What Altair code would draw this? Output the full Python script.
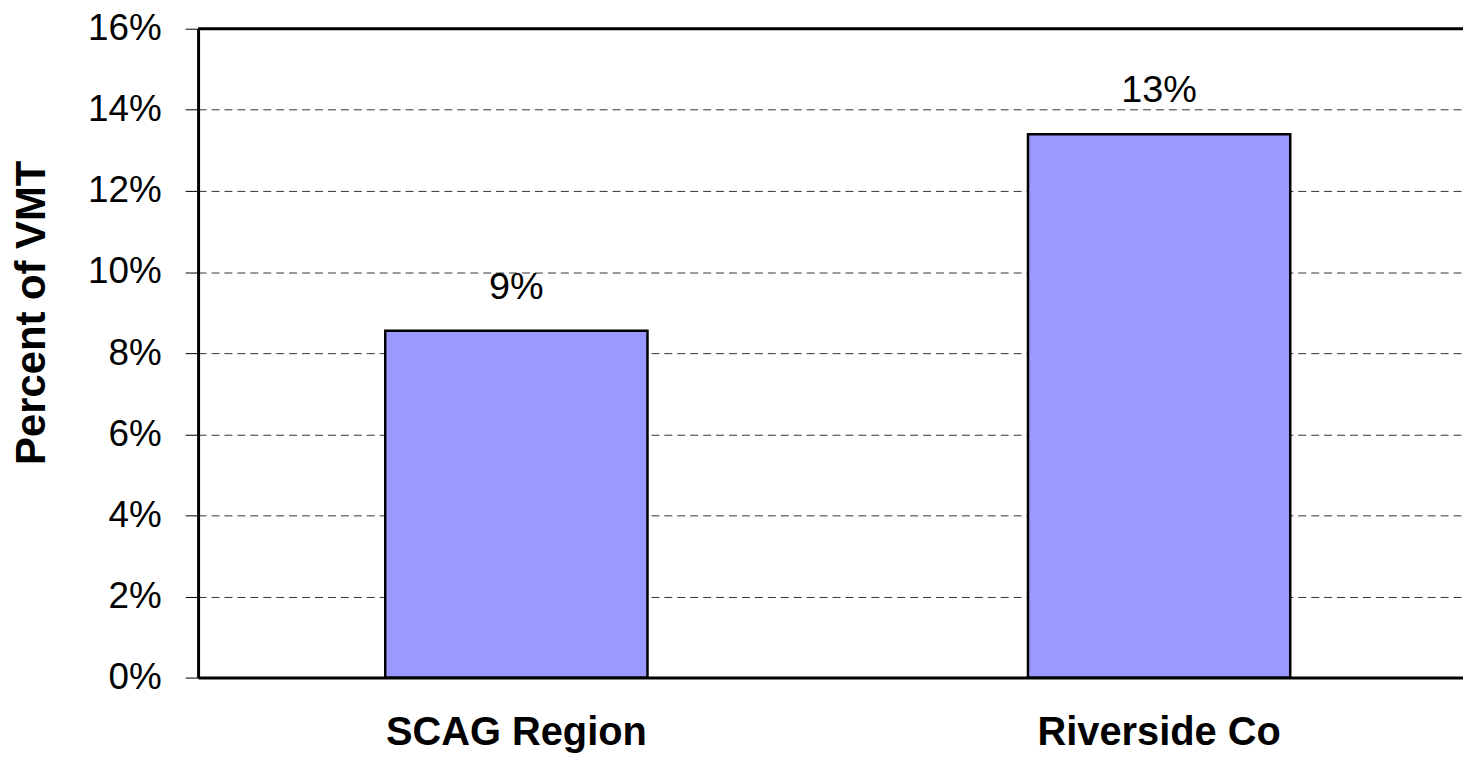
import altair as alt
import pandas as pd

categories = ["SCAG Region", "Riverside Co"]
values = [0.0855, 0.134]
y_ticks = [0, 0.02, 0.04, 0.06, 0.08, 0.10, 0.12, 0.14, 0.16]

df = pd.DataFrame({"cat": categories, "val": values})

W = 1271
H = 652
FONT = "Liberation Sans, Arial, Helvetica, sans-serif"

x_enc = alt.X(
    "cat:N",
    sort=categories,
    scale=alt.Scale(paddingInner=0.592, paddingOuter=0.28, align=0.52),
    axis=alt.Axis(
        title=None,
        labelAngle=0,
        labelFont=FONT,
        labelFontSize=40,
        labelFontWeight="bold",
        labelColor="black",
        labelPadding=35,
        labelLimit=0,
        ticks=False,
        domainColor="black",
        domainWidth=3,
        grid=False,
    ),
)

y_scale = alt.Scale(domain=[0, 0.16], nice=False, zero=True)

bars = alt.Chart(df).mark_bar(
    color="#9999FF", stroke="black", strokeWidth=2.5
).encode(
    x=x_enc,
    y=alt.Y(
        "val:Q",
        scale=y_scale,
        axis=alt.Axis(
            title="Percent of VMT",
            titleFont=FONT,
            titleFontSize=42,
            titleFontWeight="bold",
            titleColor="black",
            titlePadding=34,
            titleY=285,
            values=y_ticks,
            format=".0%",
            labelFont=FONT,
            labelFontSize=37,
            labelColor="black",
            labelPadding=24,
            tickColor="black",
            tickSize=13,
            tickWidth=1,
            domainColor="black",
            domainWidth=3,
            grid=True,
            gridColor="#333333",
            gridDash=[8, 5],
            gridWidth=1,
        ),
    ),
)

labels = alt.Chart(df).mark_text(
    font=FONT, fontSize=38, color="black", baseline="alphabetic", dy=-32
).encode(
    x=alt.X("cat:N", sort=categories),
    y=alt.Y("val:Q", scale=y_scale),
    text=alt.Text("val:Q", format=".0%"),
)

top_border = alt.Chart(pd.DataFrame({"t": [0.16]})).mark_rule(
    color="black", strokeWidth=3
).encode(
    y=alt.Y("t:Q", scale=y_scale),
    x=alt.value(0),
    x2=alt.value(W),
)

chart = (
    alt.layer(bars, labels, top_border)
    .properties(
        width=W,
        height=H,
        autosize=alt.AutoSizeParams(type="none"),
        padding={"left": 191, "top": 19, "right": 0, "bottom": 78},
    )
    .configure_view(stroke=None)
    .configure(background="white")
)

chart.save("out.html", embed_options={"renderer": "svg", "actions": False})
